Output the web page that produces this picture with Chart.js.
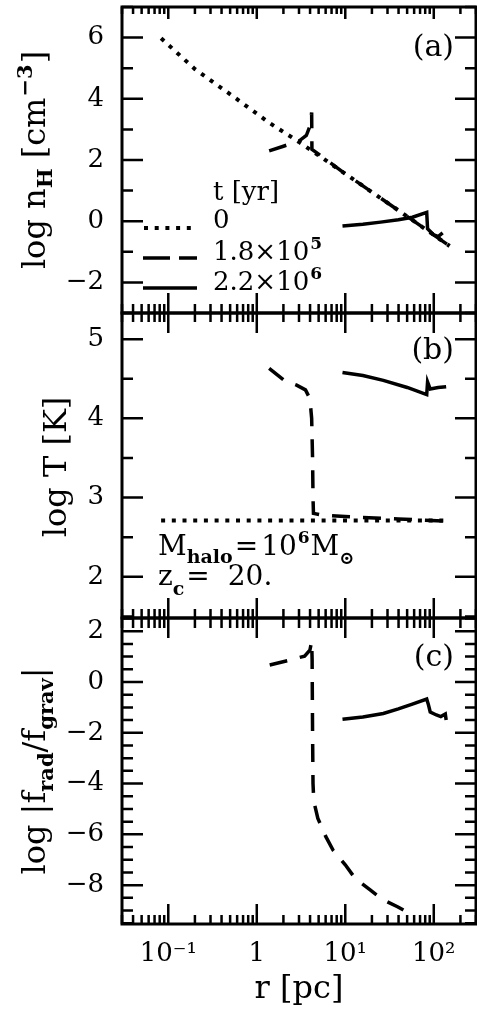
<!DOCTYPE html>
<html>
<head>
<meta charset="utf-8">
<script src="https://cdn.jsdelivr.net/npm/chart.js@4/dist/chart.umd.min.js"></script>
<style>
  html, body { margin: 0; padding: 0; background: #fff; }
  body { width: 477px; height: 1016px; position: relative; overflow: hidden; }
  canvas { position: absolute; left: 0; }
</style>
</head>
<body>
<canvas id="ca" width="477" height="316" style="top:0px"></canvas>
<canvas id="cb" width="477" height="311" style="top:310px"></canvas>
<canvas id="cc" width="477" height="401" style="top:615px"></canvas>
<script>
// radius r [pc] and log values
// t = 0
const r0 = [0.083, 0.20, 0.54, 1.41, 3.0, 10, 40, 151];
const nH0 = [5.98, 4.97, 4.08, 3.2, 2.59, 1.55, 0.35, -0.81];
const T0 = [2.71, 2.71, 2.71, 2.71, 2.71, 2.71, 2.71, 2.71];

// t = 1.8e5 yr
const r1n = [1.38, 2.0, 3.0, 3.63, 3.98, 4.17, 4.2, 10, 40, 151];
const nH1 = [2.30, 2.45, 2.62, 2.8, 3.1, 3.55, 2.35, 1.55, 0.35, -0.81];
const r1T = [1.38, 2.04, 2.82, 3.55, 3.98, 4.17, 4.27, 4.32, 4.37, 5.37, 10, 40, 151];
const T1 = [4.63, 4.48, 4.42, 4.36, 4.25, 4.0, 3.5, 3.0, 2.8, 2.78, 2.76, 2.73, 2.70];
const r1f = [1.40, 2.24, 3.47, 3.98, 4.17, 4.22, 4.27, 4.32, 4.37, 4.47, 4.90, 6.03, 7.24, 10, 12.9, 19.1, 26.3, 38.9, 58.9];
const f1 = [0.67, 0.84, 1.02, 1.25, 1.59, 0.9, -2.0, -4.0, -4.4, -4.78, -5.37, -6.09, -6.61, -7.2, -7.73, -8.19, -8.56, -8.85, -9.2];

// t = 2.2e6 yr
const r2n = [9.3, 15.8, 25.1, 39.8, 57.5, 83.2, 85.1, 100, 112, 126];
const nH2 = [-0.16, -0.1, -0.03, 0.05, 0.13, 0.29, -0.25, -0.45, -0.5, -0.38];
const r2T = [9.3, 15.8, 26.9, 50.1, 83.2, 85.1, 91.2, 112, 138];
const T2 = [4.58, 4.54, 4.48, 4.39, 4.30, 4.46, 4.37, 4.39, 4.40];
const r2f = [9.3, 15.8, 26.9, 39.8, 56.2, 83.2, 87.1, 91.2, 107, 120, 135, 138];
const f2 = [-1.47, -1.38, -1.24, -1.06, -0.88, -0.67, -0.9, -1.18, -1.3, -1.36, -1.26, -1.5];

// ticks
const xTickVals = [0.1, 1, 10, 100];
const xTickText = ['10⁻¹', '1', '10¹', '10²'];
const yTicksA = [-2, 0, 2, 4, 6];
const yTicksB = [2, 3, 4, 5];
const yTicksC = [-8, -6, -4, -2, 0, 2];

const FAM = "'DejaVu Serif', serif";
const DOT = [4, 6.7];
const DASH = [18, 13];

function fnt(px, bold) { return (bold ? 'bold ' : '') + px + 'px ' + FAM; }

// parts: [text, size, dy, gap, bold]
function richWidth(ctx, parts) {
  let w = 0;
  for (const p of parts) { ctx.font = fnt(p[1], p[4]); w += (p[3] || 0) + ctx.measureText(p[0]).width; }
  return w;
}
function rich(ctx, x, y, parts) {
  let cx = x;
  for (const p of parts) {
    ctx.font = fnt(p[1], p[4]);
    cx += p[3] || 0;
    ctx.fillText(p[0], cx, y + (p[2] || 0));
    cx += ctx.measureText(p[0]).width;
  }
}
function richVert(ctx, x, cy, parts) {
  ctx.save();
  ctx.translate(x, cy);
  ctx.rotate(-Math.PI / 2);
  rich(ctx, -richWidth(ctx, parts) / 2, 0, parts);
  ctx.restore();
}

function series(rs, vs, dash, w) {
  return {
    data: rs.map((r, i) => ({ x: r, y: vs[i] })),
    showLine: true, borderColor: '#000', borderWidth: w || 3.5,
    borderDash: dash || [], pointRadius: 0, fill: false, tension: 0
  };
}

// inside ticks + frame + panel text
function deco(yMinor, topLen, drawText) {
  return {
    id: 'deco',
    afterDraw(chart) {
      const { ctx, chartArea: a, scales: { x, y } } = chart;
      ctx.save();
      ctx.strokeStyle = '#000';
      ctx.lineWidth = 2.5;
      ctx.beginPath();
      for (let k = -2; k <= 2; k++) {
        for (let m = 1; m <= 9; m++) {
          const v = m * Math.pow(10, k);
          if (v < x.min || v > x.max) continue;
          const px = x.getPixelForValue(v);
          const big = m === 1;
          ctx.moveTo(px, a.top); ctx.lineTo(px, a.top + (big ? topLen[0] : topLen[1]));
          ctx.moveTo(px, a.bottom); ctx.lineTo(px, a.bottom - (big ? 20 : 9));
        }
      }
      const majors = y.ticks.map(t => t.value);
      for (let v = Math.ceil(y.min / yMinor) * yMinor; v <= y.max; v += yMinor) {
        const py = y.getPixelForValue(v);
        const big = majors.some(m => Math.abs(m - v) < 1e-6);
        const len = big ? 21 : 11;
        ctx.moveTo(a.left, py); ctx.lineTo(a.left + len, py);
        ctx.moveTo(a.right, py); ctx.lineTo(a.right - len, py);
      }
      ctx.stroke();
      ctx.lineWidth = 3;
      ctx.strokeRect(a.left, a.top, a.right - a.left, a.bottom - a.top);
      ctx.fillStyle = '#000';
      ctx.textBaseline = 'alphabetic';
      ctx.textAlign = 'left';
      drawText(ctx, chart);
      ctx.restore();
    }
  };
}

function fmt(v) { return v < 0 ? '−' + Math.abs(v) : String(v); }

function opts(yMin, yMax, yTicks, showX, pad) {
  return {
    responsive: false,
    animation: false,
    layout: { padding: pad },
    plugins: { legend: { display: false }, tooltip: { enabled: false } },
    scales: {
      x: {
        type: 'logarithmic', min: 0.03, max: 300, display: showX,
        grid: { display: false, drawTicks: false }, border: { display: false },
        afterBuildTicks: s => { s.ticks = xTickVals.map(v => ({ value: v })); },
        afterFit: s => { s.height = showX ? 92 : 0; s.paddingLeft = 0; s.paddingRight = 0; },
        ticks: {
          autoSkip: false, maxRotation: 0, color: '#000', padding: 15,
          font: { family: FAM, size: 26 },
          callback: v => { const i = xTickVals.indexOf(v); return i < 0 ? '' : xTickText[i]; }
        }
      },
      y: {
        min: yMin, max: yMax,
        grid: { display: false, drawTicks: false }, border: { display: false },
        afterBuildTicks: s => { s.ticks = yTicks.map(v => ({ value: v })); },
        afterFit: s => { s.width = 122; s.paddingTop = 0; s.paddingBottom = 0; },
        ticks: { color: '#000', padding: 18, font: { family: FAM, size: 26 }, callback: v => fmt(v) }
      }
    }
  };
}

// panel (a)
new Chart(document.getElementById('ca'), {
  type: 'scatter',
  data: { datasets: [series(r0, nH0, DOT, 4), series(r1n, nH1, DASH), series(r2n, nH2)] },
  options: opts(-3, 7, yTicksA, false, { left: 0, right: 1, top: 7, bottom: 3 }),
  plugins: [deco(1, [12, 7], (ctx) => {
    richVert(ctx, 45, 160, [['log n', 32], ['H', 21, 7, 0, true], [' [cm', 32], ['−3', 21, -13, 1, true], [']', 32, 0, 1]]);
    ctx.font = fnt(30);
    ctx.textAlign = 'right';
    ctx.fillText('(a)', 454, 56);
    ctx.textAlign = 'left';
    ctx.font = fnt(26);
    ctx.fillText('t [yr]', 213, 200);
    ctx.fillText('0', 213, 228);
    rich(ctx, 213, 260, [['1.8×10', 26], ['5', 17, -11, 1, true]]);
    rich(ctx, 213, 290, [['2.2×10', 26], ['6', 17, -11, 1, true]]);
    ctx.lineWidth = 4;
    ctx.setLineDash(DOT);
    ctx.beginPath(); ctx.moveTo(144, 228); ctx.lineTo(194, 228); ctx.stroke();
    ctx.lineWidth = 3.5;
    ctx.setLineDash([27, 9]);
    ctx.beginPath(); ctx.moveTo(143, 258); ctx.lineTo(197, 258); ctx.stroke();
    ctx.setLineDash([]);
    ctx.beginPath(); ctx.moveTo(143, 288); ctx.lineTo(197, 288); ctx.stroke();
  })]
});

// panel (b)
new Chart(document.getElementById('cb'), {
  type: 'scatter',
  data: { datasets: [series(r0, T0, DOT, 4), series(r1T, T1, DASH), series(r2T, T2)] },
  options: opts(1.48, 5.33, yTicksB, false, { left: 0, right: 1, top: 3, bottom: 3 }),
  plugins: [deco(0.5, [20, 9], (ctx, chart) => {
    const o = chart.canvas.offsetTop;
    richVert(ctx, 66, 467 - o, [['log T [K]', 32]]);
    ctx.font = fnt(30);
    ctx.textAlign = 'right';
    ctx.fillText('(b)', 454, 359 - o);
    ctx.textAlign = 'left';
    rich(ctx, 158, 555 - o, [['M', 28], ['halo', 19, 8, 0, true], ['=', 28, 0, 2], ['10', 28, 0, 3], ['6', 17, -12, 1, true], ['M', 28, 0, 1], ['⊙', 18, 9, 0, true]]);
    rich(ctx, 158, 585 - o, [['z', 28], ['c', 19, 10, 0, true], ['=', 28, 0, 2], ['20.', 28, 0, 18]]);
  })]
});

// panel (c)
new Chart(document.getElementById('cc'), {
  type: 'scatter',
  data: { datasets: [series(r1f, f1, DASH), series(r2f, f2)] },
  options: opts(-9.53, 2.52, yTicksC, true, { left: 0, right: 1, top: 3, bottom: 0 }),
  plugins: [deco(0.5, [20, 10], (ctx, chart) => {
    const o = chart.canvas.offsetTop;
    richVert(ctx, 45, 771 - o, [['log |f', 32], ['rad', 21, 8, 0, true], ['/f', 32], ['grav', 21, 8, 0, true], ['|', 32]]);
    ctx.font = fnt(30);
    ctx.textAlign = 'right';
    ctx.fillText('(c)', 454, 666 - o);
    ctx.textAlign = 'center';
    ctx.font = fnt(32);
    ctx.fillText('r [pc]', 299, 998 - o);
  })]
});
</script>
</body>
</html>
